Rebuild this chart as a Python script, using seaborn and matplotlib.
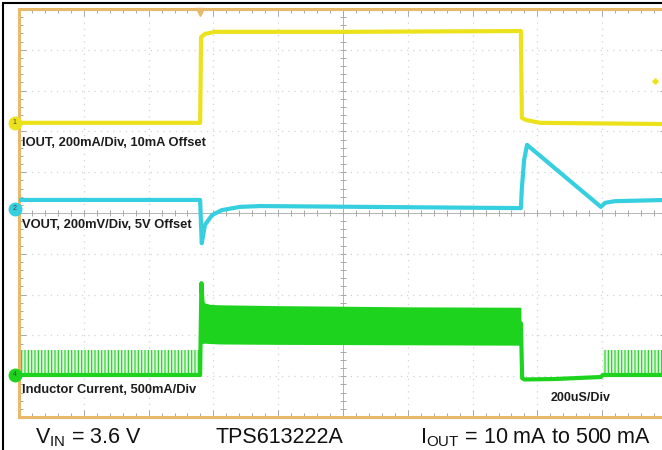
import numpy as np
import pandas as pd
import matplotlib
matplotlib.use("Agg")
import matplotlib.pyplot as plt
from matplotlib.lines import Line2D
import seaborn as sns

# time axis in microseconds (200 us/div, 10 div), vertical in screen divisions
# IOUT trace (yellow, CH1)
iout_t = [0, 559, 562, 574, 605, 1000, 1549, 1552, 1565, 1608, 2000]
iout_y = [7.21, 7.21, 9.31, 9.39, 9.44, 9.44, 9.46, 7.33, 7.28, 7.21, 7.18]

# VOUT trace (cyan, CH2)
vout_t = [0, 559, 564, 574, 596, 626, 682, 744, 1549, 1552, 1559, 1568, 1796, 1809, 1839, 2000]
vout_y = [5.32, 5.32, 4.26, 4.71, 4.95, 5.07, 5.15, 5.17, 5.12, 5.60, 6.30, 6.67, 5.15, 5.25, 5.29, 5.32]

# inductor current (green, CH4) - baseline / transitions
ind_t = [0, 559, 563, 570, 1549, 1553, 1560, 1650, 1796, 1802, 2000]
ind_y = [1.03, 1.03, 3.28, 2.30, 2.30, 0.95, 0.92, 0.93, 0.98, 1.03, 1.03]

# heavy-load switching band envelope
band_t = [563, 566, 572, 590, 620, 800, 1200, 1549]
band_hi = [3.28, 2.90, 2.80, 2.76, 2.75, 2.73, 2.70, 2.69]
band_lo = [1.80, 1.80, 1.81, 1.80, 1.79, 1.78, 1.77, 1.76]

# light-load pulse bursts (start, end), baseline and pulse top
burst_t = [(6, 556), (1802, 2000)]
burst_lo = 1.03
burst_hi = 1.64

labels = ["IOUT, 200mA/Div, 10mA Offset", "VOUT, 200mV/Div, 5V Offset",
          "Inductor Current, 500mA/Div"]
label_y = [6.72, 4.71, 0.66]
timebase = "200uS/Div"
footer = [r"V$_{\mathrm{IN}}$ = 3.6 V", "TPS613222A", r"I$_{\mathrm{OUT}}$ = 10 mA to 500 mA"]

YEL = "#ECE21C"
CYA = "#35CFDF"
GRN = "#1ED31E"
ORG = "#E9B96B"

sns.set_style("white")
plt.rcParams['font.family'] = ['Liberation Sans', 'DejaVu Sans']
plt.rcParams['mathtext.fontset'] = 'custom'
plt.rcParams['mathtext.rm'] = 'Liberation Sans'
plt.rcParams['mathtext.it'] = 'Liberation Sans'
plt.rcParams['hatch.linewidth'] = 0.8

fig = plt.figure(figsize=(6.62, 4.5), dpi=100)
ax = fig.add_axes([19 / 662, 1 - 417 / 450, 648 / 662, 408 / 450])
ax.set_xlim(0, 2000)
ax.set_ylim(0, 10)

# graticule
for xv in range(200, 2000, 200):
    if xv != 1000:
        ax.axvline(xv, color="#D4D4D4", lw=0.9, ls=(0, (1, 4)), zorder=0)
for yv in range(1, 10):
    if yv != 5:
        ax.axhline(yv, color="#D4D4D4", lw=0.9, ls=(0, (1, 4)), zorder=0)
ax.axvline(1000, color="#B4B4B4", lw=0.7, zorder=0)
ax.axhline(5, color="#B4B4B4", lw=0.7, zorder=0)
tx = np.arange(0, 2001, 40)
ty = np.arange(0, 10.01, 0.2)
ax.plot(tx, np.full(len(tx), 5), ls="none", marker="|", ms=4, color="#A8A8A8", mew=0.7, zorder=0)
ax.plot(np.full(len(ty), 1000), ty, ls="none", marker="_", ms=4, color="#A8A8A8", mew=0.7, zorder=0)

ax.set_xticks(np.arange(0, 2001, 200))
ax.set_xticks(tx, minor=True)
ax.set_yticks(np.arange(0, 11, 1))
ax.set_yticks(ty, minor=True)
ax.tick_params(which="both", direction="in", top=True, bottom=True, left=True, right=True,
               labelbottom=False, labelleft=False, color="#A8A8A8", width=0.7)
ax.tick_params(which="major", length=5)
ax.tick_params(which="minor", length=3)
for s in ["left", "top", "bottom"]:
    ax.spines[s].set_color(ORG)
    ax.spines[s].set_linewidth(2.2)
ax.spines["right"].set_visible(False)

# traces
df_i = pd.DataFrame({"t": iout_t, "y": iout_y})
df_v = pd.DataFrame({"t": vout_t, "y": vout_y})
df_l = pd.DataFrame({"t": ind_t, "y": ind_y})
sns.lineplot(data=df_i, x="t", y="y", ax=ax, color=YEL, lw=3, sort=False, zorder=3)
sns.lineplot(data=df_v, x="t", y="y", ax=ax, color=CYA, lw=3, sort=False, zorder=3)
for t0, t1 in burst_t:
    ax.fill_between([t0, t1], burst_lo, burst_hi, facecolor="#DDF6DD", edgecolor=GRN,
                    hatch="|||||", linewidth=0, zorder=2)
sns.lineplot(data=df_l, x="t", y="y", ax=ax, color=GRN, lw=3, sort=False, zorder=3)
ax.fill_between(band_t, band_lo, band_hi, color=GRN, lw=0, zorder=3)
ax.set_xlabel("")
ax.set_ylabel("")

# channel markers, trigger marker
for lab, yv, c in [("1", 7.21, YEL), ("2", 5.1, CYA), ("4", 1.03, GRN)]:
    ax.plot([-13], [yv], "o", ms=9, color=c, clip_on=False, zorder=5)
    ax.text(-13, yv, lab, fontsize=5, ha="center", va="center", color="#444", zorder=6, clip_on=False)
ax.plot([559], [9.93], "v", ms=6, color=ORG, clip_on=False, zorder=5)
ax.plot([1963], [8.24], "+", ms=5, mew=2, color=YEL, zorder=5)

for lab, yv in zip(labels, label_y):
    ax.text(9, yv, lab, fontsize=9.3, fontweight="bold", color="#1c1c1c", va="center", ha="left", zorder=6)
ax.text(1642, 0.47, timebase, fontsize=9, fontweight="bold", color="#1c1c1c", va="center", ha="left")

# footer text
for s, xp in zip(footer, [35, 215, 420]):
    fig.text(xp / 662, 1 - 443 / 450, s, fontsize=15.5, color="#111", ha="left", va="baseline")

# outer frame
fig.add_artist(Line2D([3 / 662, 1], [1 - 2.5 / 450] * 2, color="black", lw=1.5, transform=fig.transFigure))
fig.add_artist(Line2D([3 / 662] * 2, [0, 1 - 2.5 / 450], color="black", lw=1.5, transform=fig.transFigure))

fig.savefig("out.png", dpi=100)
